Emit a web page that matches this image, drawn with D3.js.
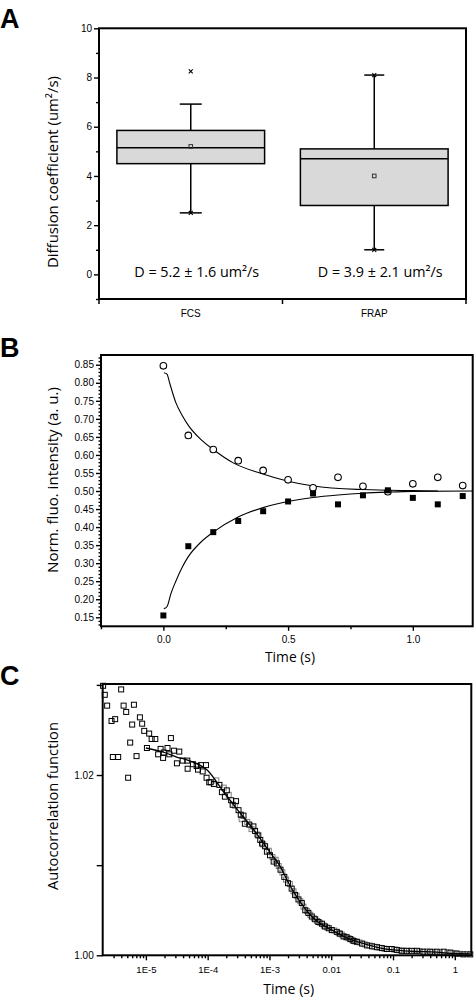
<!DOCTYPE html>
<html><head><meta charset="utf-8">
<script src="https://cdn.jsdelivr.net/npm/d3@7"></script>
<style>body{margin:0;background:#fff} svg{display:block}</style>
</head><body><svg id="c" width="474" height="1000"></svg>
<script>
// ---------- Panel A data ----------
const boxCategories = ["FCS", "FRAP"];
const boxQ1 = [4.5, 2.8];
const boxMedian = [5.15, 4.7];
const boxQ3 = [5.85, 5.1];
const boxMean = [5.2, 4.0];
const whiskerLow = [2.5, 1.0];
const whiskerHigh = [6.92, 8.1];
const dataMin = [2.5, 1.0];
const dataMax = [8.25, 8.1];
const boxNotes = ["D = 5.2 \u00B1 1.6 um\u00B2/s", "D = 3.9 \u00B1 2.1 um\u00B2/s"];
const aYTicks = [0, 2, 4, 6, 8, 10];
const aYMinorTicks = [-1, 1, 3, 5, 7, 9];

// ---------- Panel B data ----------
const bTime = [0, 0.1, 0.2, 0.3, 0.4, 0.5, 0.6, 0.7, 0.8, 0.9, 1.0, 1.1, 1.2];
const bCircles = [0.847, 0.654, 0.615, 0.584, 0.557, 0.531, 0.509, 0.538, 0.513, 0.498, 0.520, 0.538, 0.515];
const bSquares = [0.155, 0.347, 0.386, 0.417, 0.444, 0.471, 0.493, 0.463, 0.488, 0.502, 0.481, 0.463, 0.486];
const bFitDecayT = [0.0025, 0.0145, 0.025, 0.05, 0.075, 0.1, 0.15, 0.2, 0.28, 0.39, 0.5, 0.6, 0.8, 1.0, 1.1];
const bFitDecayY = [0.828, 0.824, 0.800, 0.745, 0.710, 0.682, 0.643, 0.615, 0.578, 0.549, 0.527, 0.514, 0.504, 0.501, 0.500];
const bFitRiseT = [0.002, 0.015, 0.03, 0.05, 0.075, 0.1, 0.15, 0.2, 0.3, 0.4, 0.5, 0.6, 0.7, 0.8, 0.9, 1.0, 1.24];
const bFitRiseY = [0.174, 0.180, 0.215, 0.250, 0.288, 0.318, 0.358, 0.386, 0.428, 0.454, 0.471, 0.482, 0.489, 0.494, 0.497, 0.499, 0.500];
const bXTicks = [0, 0.5, 1.0];
const bXMinorTicks = [-0.25, 0.25, 0.75];
const bYTicks = [0.15, 0.20, 0.25, 0.30, 0.35, 0.40, 0.45, 0.50, 0.55, 0.60, 0.65, 0.70, 0.75, 0.80, 0.85];

// ---------- Panel C data ----------
const cTime = [2.03e-6,2.16e-6,2.36e-6,2.78e-6,2.92e-6,3.18e-6,3.56e-6,3.98e-6,4.36e-6,4.80e-6,5.16e-6,5.57e-6,6.0e-6,6.4e-6,7.06e-6,8.0e-6,8.7e-6,9.4e-6,
  1.04e-5,1.13e-5,1.24e-5,1.42e-5,1.58e-5,1.73e-5,1.9e-5,1.95e-5,2.24e-5,2.4e-5,2.54e-5,2.84e-5,3.18e-5,3.47e-5,3.94e-5,4.68e-5,4.74e-5,5.78e-5,6.64e-5,6.97e-5,7.78e-5,8.3e-5,9.4e-5,9.6e-5,
  1.06e-4,1.12e-4,1.26e-4,1.55e-4,1.7e-4,1.9e-4,2.04e-4,2.4e-4,2.54e-4,2.88e-4,3.16e-4,3.43e-4,3.8e-4,4.0e-4,4.72e-4,5.5e-4,5.85e-4,6.6e-4,7.1e-4,7.6e-4,8.5e-4,9.1e-4,
  1.02e-3,1.17e-3,1.32e-3,1.51e-3,1.74e-3,2.0e-3,2.29e-3,2.6e-3,2.95e-3,3.34e-3,3.8e-3,4.27e-3,4.85e-3,5.5e-3,6.2e-3,7.1e-3,7.9e-3,9.1e-3,
  1.02e-2,1.23e-2,1.38e-2,1.58e-2,1.78e-2,2.04e-2,2.29e-2,2.6e-2,3.16e-2,3.8e-2,4.57e-2,5.5e-2,6.6e-2,7.9e-2,9.5e-2,
  0.115,0.138,0.166,0.2,0.245,0.31,0.4,0.51,0.66,0.85,1.07,1.38,1.78];
const cValue = [1.0299,1.0289,1.0277,1.0260,1.0220,1.0262,1.0220,1.0295,1.0277,1.0270,1.0197,1.0236,1.0256,1.0278,1.0221,1.0264,1.0257,1.0249,
  1.0230,1.0246,1.0240,1.0240,1.0223,1.0229,1.0219,1.0225,1.0230,1.0223,1.0241,1.0227,1.0213,1.0226,1.0216,1.0216,1.0207,1.0212,1.0210,1.0206,1.0211,1.0204,1.0211,1.0197,
  1.0192,1.0192,1.0190,1.0189,1.0181,1.0176,1.0183,1.0172,1.0167,1.0171,1.0161,1.0156,1.0155,1.0146,1.0145,1.0143,1.0138,1.0133,1.0128,1.0124,1.0121,1.0115,
  1.0111,1.0104,1.0102,1.0095,1.0087,1.0080,1.0074,1.0067,1.0062,1.0058,1.0050,1.0047,1.0043,1.0040,1.0037,1.0035,1.0032,1.0030,
  1.0028,1.0026,1.0024,1.0021,1.0020,1.0018,1.0016,1.0015,1.0013,1.0011,1.0010,1.0009,1.0008,1.0007,1.0007,
  1.0006,1.0005,1.0005,1.0005,1.0005,1.0004,1.0004,1.0004,1.0004,1.0003,1.0002,1.0001,1.0001];
// second (gray) run of the correlation curve
const cTime2 = [1.38e-4,1.82e-4,2.19e-4,2.75e-4,3.55e-4,4.37e-4,5.13e-4,6.31e-4,7.94e-4,9.77e-4,1.12e-3,1.26e-3,1.41e-3,1.62e-3,1.86e-3,2.14e-3,2.45e-3,2.75e-3,3.16e-3,3.55e-3,4.07e-3,4.57e-3,5.25e-3,5.89e-3,6.61e-3,7.59e-3,8.51e-3,
  1.12e-2,1.32e-2,1.48e-2,1.70e-2,1.91e-2,2.19e-2,2.45e-2,2.88e-2,3.47e-2,4.17e-2,5.01e-2,6.03e-2,7.24e-2,8.71e-2,0.105,0.126,0.151,0.182,0.219,0.275,0.355,0.447,0.575,0.759,0.955,1.2,1.55];
const cValue2 = [1.0194,1.0186,1.0178,1.0166,1.0151,1.0148,1.0140,1.0134,1.0123,1.0116,1.0109,1.0106,1.0099,1.0092,1.0084,1.0079,1.0071,1.0066,1.0060,1.0054,1.0049,1.0045,1.0041,1.0038,1.0036,1.0033,1.0031,
  1.00275,1.00245,1.0023,1.00205,1.0019,1.0017,1.00155,1.00142,1.00122,1.00108,1.00095,1.00084,1.00074,1.0007,1.00064,1.00056,1.0005,1.00048,1.00047,1.00045,1.00042,1.00038,1.00035,1.00033,1.00022,1.00016,1.00015];
const cFitT = [1.0e-5,2.0e-5,3.16e-5,5.0e-5,1.0e-4,1.78e-4,3.16e-4,5.6e-4,1.0e-3,1.39e-3,2.29e-3,3.16e-3,5.0e-3,1.0e-2,2.0e-2,3.16e-2,6.3e-2,0.1,0.2,0.5,1.0,1.78];
const cFitY = [1.0230,1.0225,1.0220,1.0216,1.0205,1.0182,1.0160,1.0139,1.0115,1.0102,1.0074,1.0059,1.0042,1.00285,1.0018,1.00135,1.0008,1.0006,1.00045,1.00035,1.0002,1.00015];
const cXTicks = [1e-5, 1e-4, 1e-3, 1e-2, 0.1, 1];
const cXTickLabels = ["1E-5", "1E-4", "1E-3", "0.01", "0.1", "1"];
const cYTicks = [1.00, 1.01, 1.02, 1.03];
const cYTickLabels = ["1.00", "", "1.02", ""];

// ---------- drawing ----------
const svg = d3.select("#c");
const TICKF = '"Liberation Sans", Arial, sans-serif';
const TITLEF = '"Open Sans", "Noto Sans", sans-serif';

function fitWidth(sel, w) {
  const l = sel.node().getComputedTextLength();
  const fs = parseFloat(sel.attr("font-size"));
  sel.attr("font-size", (fs * w / l).toFixed(2));
}
function styleAxis(g, fs) {
  g.select(".domain").remove();
  g.selectAll(".tick line").attr("stroke", "#000").attr("stroke-width", 1.4);
  g.selectAll(".tick text").attr("font-family", TICKF).attr("font-size", fs).attr("fill", "#000");
}
function frame(x0, x1, y0, y1) {
  svg.append("rect").attr("x", x0).attr("y", y0).attr("width", x1 - x0).attr("height", y1 - y0)
    .attr("fill", "none").attr("stroke", "#000").attr("stroke-width", 2);
}
function panelLabel(t, x, y) {
  svg.append("text").attr("x", x).attr("y", y).attr("font-family", TICKF).attr("font-weight", "bold")
    .attr("font-size", 27).text(t);
}
function yTitle(t, x, yc, w) {
  const s = svg.append("text").attr("transform", `translate(${x},${yc}) rotate(-90)`).attr("text-anchor", "middle")
    .attr("font-family", TITLEF).attr("font-size", 15).text(t);
  fitWidth(s, w);
}
function xTitle(t, xc, y, w) {
  const s = svg.append("text").attr("x", xc).attr("y", y).attr("text-anchor", "middle")
    .attr("font-family", TITLEF).attr("font-size", 14).text(t);
  fitWidth(s, w);
}

// ===== Panel A =====
const xA = d3.scaleBand().domain(boxCategories).range([99, 466]).paddingInner(0).paddingOuter(0);
const yA = d3.scaleLinear().domain([-1, 10]).range([299, 28.3]);
panelLabel("A", 0, 28);
{
  const bw = xA.bandwidth() * 0.805;
  boxCategories.forEach((c, i) => {
    const cx = xA(c) + xA.bandwidth() / 2;
    const cap = i === 0 ? 11 : 10;
    const g = svg.append("g");
    g.append("line").attr("x1", cx).attr("x2", cx).attr("y1", yA(boxQ3[i])).attr("y2", yA(whiskerHigh[i])).attr("stroke", "#000").attr("stroke-width", 1.5);
    g.append("line").attr("x1", cx).attr("x2", cx).attr("y1", yA(boxQ1[i])).attr("y2", yA(whiskerLow[i])).attr("stroke", "#000").attr("stroke-width", 1.5);
    [whiskerHigh[i], whiskerLow[i]].forEach(v => g.append("line").attr("x1", cx - cap).attr("x2", cx + cap).attr("y1", yA(v)).attr("y2", yA(v)).attr("stroke", "#000").attr("stroke-width", 1.5));
    g.append("rect").attr("x", cx - bw / 2).attr("width", bw).attr("y", yA(boxQ3[i])).attr("height", yA(boxQ1[i]) - yA(boxQ3[i]))
      .attr("fill", "#d9d9d9").attr("stroke", "#000").attr("stroke-width", 1.5);
    g.append("line").attr("x1", cx - bw / 2).attr("x2", cx + bw / 2).attr("y1", yA(boxMedian[i])).attr("y2", yA(boxMedian[i])).attr("stroke", "#000").attr("stroke-width", 1.5);
    g.append("rect").attr("x", cx - 1.8).attr("y", yA(boxMean[i]) - 1.8).attr("width", 3.6).attr("height", 3.6).attr("fill", "none").attr("stroke", "#333").attr("stroke-width", 1);
    [dataMin[i], dataMax[i]].forEach(v => {
      const y = yA(v);
      g.append("path").attr("d", `M${cx - 2},${y - 2}L${cx + 2},${y + 2}M${cx - 2},${y + 2}L${cx + 2},${y - 2}`).attr("stroke", "#000").attr("stroke-width", 1.1);
    });
    svg.append("text").attr("x", cx + 6).attr("y", 276.7).attr("text-anchor", "middle").attr("font-family", TITLEF).attr("font-size", 14).text(boxNotes[i])
      .call(s => fitWidth(s, 125));
  });
}
frame(99, 466, 28.3, 299);
svg.append("g").attr("transform", "translate(99,0)").call(d3.axisLeft(yA).tickValues(aYTicks).tickSize(5).tickPadding(2).tickFormat(d3.format("d"))).call(g => styleAxis(g, 10));
svg.append("g").attr("transform", "translate(99,0)").call(d3.axisLeft(yA).tickValues(aYMinorTicks).tickSize(3).tickFormat("")).call(g => styleAxis(g, 10));
svg.append("g").attr("transform", "translate(0,299)").call(d3.axisBottom(xA).tickSize(0).tickPadding(11)).call(g => styleAxis(g, 10));
[...boxCategories.map(c => xA(c)), xA.range()[1]].forEach(x => svg.append("line").attr("x1", x).attr("x2", x).attr("y1", 299).attr("y2", 304).attr("stroke", "#000").attr("stroke-width", 1.5));
yTitle("Diffusion coefficient (um\u00B2/s)", 57.5, 172, 192);

// ===== Panel B =====
const xB = d3.scaleLinear().domain([-0.25, 1.24]).range([101, 472.7]);
const yB = d3.scaleLinear().domain([0.125, 0.877]).range([626.3, 355]);
panelLabel("B", 0, 357);
const lineB = d3.line().x(d => xB(d[0])).y(d => yB(d[1])).curve(d3.curveMonotoneX);
svg.append("path").attr("d", lineB(bFitDecayT.map((t, i) => [t, bFitDecayY[i]]))).attr("fill", "none").attr("stroke", "#000").attr("stroke-width", 1.1);
svg.append("path").attr("d", lineB(bFitRiseT.map((t, i) => [t, bFitRiseY[i]]))).attr("fill", "none").attr("stroke", "#000").attr("stroke-width", 1.1);
svg.append("g").selectAll("circle").data(bTime).join("circle").attr("cx", d => xB(d)).attr("cy", (d, i) => yB(bCircles[i])).attr("r", 3.3)
  .attr("fill", "#fff").attr("stroke", "#000").attr("stroke-width", 1.1);
svg.append("g").selectAll("rect").data(bTime).join("rect").attr("x", d => xB(d) - 3).attr("y", (d, i) => yB(bSquares[i]) - 3).attr("width", 6).attr("height", 6).attr("fill", "#000");
frame(101, 472.7, 355, 626.3);
svg.append("g").attr("transform", "translate(101,0)").call(d3.axisLeft(yB).tickValues(bYTicks).tickSize(5).tickPadding(2).tickFormat(d3.format(".2f"))).call(g => styleAxis(g, 10));
svg.append("g").attr("transform", "translate(101,0)").call(d3.axisLeft(yB).tickValues(d3.range(13, 88).map(v => v / 100).filter(v => Math.round(v * 100) % 5 !== 0)).tickSize(2.5).tickFormat("")).call(g => styleAxis(g, 10));
svg.append("g").attr("transform", "translate(0,626.3)").call(d3.axisBottom(xB).tickValues(bXTicks).tickSize(4.5).tickPadding(5.5).tickFormat(d3.format(".1f"))).call(g => styleAxis(g, 10));
svg.append("g").attr("transform", "translate(0,626.3)").call(d3.axisBottom(xB).tickValues(bXMinorTicks).tickSize(3).tickFormat("")).call(g => styleAxis(g, 10));
yTitle("Norm. fluo. intensity (a. u.)", 57.5, 480, 186);
xTitle("Time (s)", 290, 662, 50);

// ===== Panel C =====
const xC = d3.scaleLog().domain([2e-6, 1.85]).range([102.7, 471.3]);
const yC = d3.scaleLinear().domain([1.0, 1.0301]).range([955.3, 684]);
panelLabel("C", 0, 685);
const sq = 5;
svg.append("g").selectAll("rect").data(cTime2).join("rect").attr("x", d => xC(d) - sq / 2).attr("y", (d, i) => yC(cValue2[i]) - sq / 2)
  .attr("width", sq).attr("height", sq).attr("fill", "none").attr("stroke", "#808080").attr("stroke-width", 1);
svg.append("g").selectAll("rect").data(cTime).join("rect").attr("x", d => xC(d) - sq / 2).attr("y", (d, i) => yC(cValue[i]) - sq / 2)
  .attr("width", sq).attr("height", sq).attr("fill", "none").attr("stroke", "#000").attr("stroke-width", 1);
const lineC = d3.line().x(d => xC(d[0])).y(d => yC(d[1])).curve(d3.curveMonotoneX);
svg.append("path").attr("d", lineC(cFitT.map((t, i) => [t, cFitY[i]]))).attr("fill", "none").attr("stroke", "#000").attr("stroke-width", 1.3);
frame(102.7, 471.3, 684, 955.3);
svg.append("g").attr("transform", "translate(102.7,0)").call(d3.axisLeft(yC).tickValues(cYTicks).tickSize(6).tickPadding(3).tickFormat((d, i) => cYTickLabels[i])).call(g => styleAxis(g, 10));
svg.append("g").attr("transform", "translate(0,955.3)").call(d3.axisBottom(xC).tickValues(cXTicks).tickSize(5).tickPadding(6).tickFormat((d, i) => cXTickLabels[i])).call(g => styleAxis(g, 9.5));
const cMinor = [];
[1e-6, 1e-5, 1e-4, 1e-3, 1e-2, 0.1, 1].forEach(dec => { for (let k = 2; k <= 9; k++) { const v = dec * k; if (v > 2.05e-6 && v < 1.85) cMinor.push(v); } });
svg.append("g").attr("transform", "translate(0,955.3)").call(d3.axisBottom(xC).tickValues(cMinor).tickSize(3).tickFormat("")).call(g => styleAxis(g, 9.5));
yTitle("Autocorrelation function", 57.5, 806, 168);
xTitle("Time (s)", 288.7, 994, 51);
</script>
</body></html>
